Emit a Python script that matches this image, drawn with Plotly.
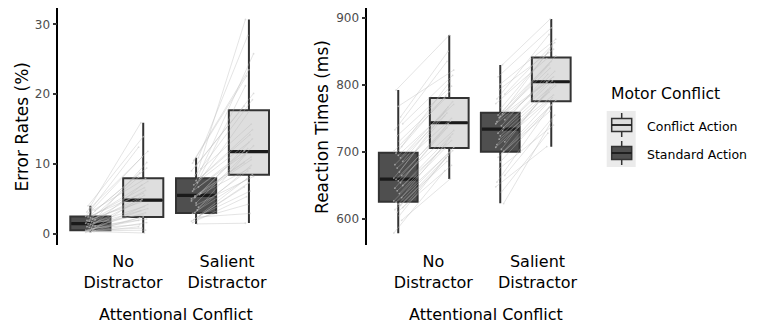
import plotly.graph_objects as go

W, H = 757, 327

# ---------------- data ----------------
categories = ["No<br>Distractor", "Salient<br>Distractor"]
motor_levels = ["Conflict Action", "Standard Action"]

# Error rates (%) per participant
er_nd_standard = [0.2, 0.3, 0.3, 0.4, 0.4, 0.4, 0.5, 0.5, 0.5, 0.5, 0.7, 0.8, 0.9, 1.0, 1.1, 1.2, 1.3, 1.4,
                  1.5, 1.6, 1.7, 1.8, 1.9, 2.0, 2.1, 2.3, 2.4, 2.5, 2.7, 2.8, 3.0, 3.1, 3.3, 3.5, 3.7, 4.0]
er_nd_conflict = [1.0, 0.1, 2.3, 0.5, 3.3, 1.6, 0.8, 4.2, 2.4, 1.9, 5.5, 1.3, 3.0, 4.7, 2.1, 7.0, 3.6, 2.7,
                  8.1, 3.9, 5.2, 6.2, 4.5, 10.2, 4.9, 7.5, 5.8, 12.4, 6.6, 8.7, 7.9, 15.9, 9.4, 11.0, 11.8, 13.9]
er_sd_standard = [1.8, 2.4, 1.4, 3.0, 1.6, 2.8, 2.2, 4.1, 2.0, 4.7, 2.6, 3.4, 5.2, 2.9, 5.8, 3.8, 4.4, 6.4,
                  5.0, 5.6, 7.3, 5.4, 6.1, 8.1, 6.7, 7.6, 7.0, 9.0, 7.9, 8.7, 8.4, 10.1, 9.3, 10.9, 9.7, 10.5]
er_sd_conflict = [6.7, 2.9, 1.5, 9.8, 5.3, 8.5, 4.2, 8.2, 7.3, 11.9, 6.1, 11.3, 10.6, 7.8, 13.6, 9.0, 12.6, 17.5,
                  10.2, 9.4, 21.2, 11.0, 11.6, 14.9, 12.2, 25.8, 13.1, 18.3, 14.2, 30.7, 15.7, 22.6, 19.2, 28.4, 20.1, 23.5]

# Reaction times (ms) per participant
rt_nd_standard = [579, 598, 605, 610, 614, 617, 620, 622, 625, 627, 632, 638, 642, 646, 650, 654, 657, 659,
                  661, 665, 670, 676, 681, 686, 691, 695, 698, 701, 708, 716, 724, 733, 742, 752, 768, 792]
rt_nd_conflict = [672, 660, 691, 680, 686, 702, 695, 707, 699, 705, 722, 712, 717, 736, 727, 742, 732, 740,
                  754, 746, 762, 750, 758, 775, 767, 771, 790, 779, 806, 783, 798, 835, 814, 850, 822, 874]
rt_sd_standard = [648, 623, 640, 675, 655, 665, 699, 685, 692, 707, 701, 704, 719, 711, 715, 732, 724, 728,
                  742, 736, 739, 751, 745, 748, 757, 753, 755, 772, 761, 766, 793, 779, 786, 830, 801, 812]
rt_sd_conflict = [708, 748, 728, 740, 766, 755, 761, 777, 770, 774, 781, 793, 785, 789, 802, 796, 799, 809,
                  804, 806, 816, 812, 830, 820, 825, 843, 835, 839, 858, 848, 853, 875, 863, 898, 868, 885]

# Box statistics, order: [No Distractor, Salient Distractor]
er_standard_stats = dict(lowerfence=[0.2, 1.38], q1=[0.5, 2.95], median=[1.43, 5.48], q3=[2.45, 7.95], upperfence=[4.0, 10.9])
er_conflict_stats = dict(lowerfence=[0.1, 1.52], q1=[2.38, 8.43], median=[4.81, 11.76], q3=[7.95, 17.7], upperfence=[15.9, 30.7])
rt_standard_stats = dict(lowerfence=[578.7, 623.4], q1=[625.8, 700.3], median=[659.6, 734.1], q3=[698.8, 758.4], upperfence=[792.2, 829.5])
rt_conflict_stats = dict(lowerfence=[659.6, 707.7], q1=[705.8, 775.4], median=[743.5, 804.6], q3=[780.3, 840.9], upperfence=[874.2, 898.0])

# ---------------- style ----------------
FONT = "DejaVu Sans"
DARK_FILL = "#4f4f4f"
LIGHT_FILL = "#dedede"
OUTLINE = "#333333"
MEDIAN = "#1a1a1a"
LINE_COL = "rgba(185,185,185,0.55)"
PT_COL = "rgba(205,205,205,0.6)"
BOX_W = 0.38
DODGE = 0.25
CAT_POS = [1, 2]

fig = go.Figure()


def add_panel(xa, ya, std_stats, con_stats, std_nd, con_nd, std_sd, con_sd):
    for stats, fill, off in ((std_stats, DARK_FILL, -DODGE), (con_stats, LIGHT_FILL, DODGE)):
        xs = [c + off for c in CAT_POS]
        fig.add_trace(go.Box(
            x=xs, q1=stats["q1"], median=stats["median"], q3=stats["q3"],
            lowerfence=stats["lowerfence"], upperfence=stats["upperfence"],
            width=BOX_W, whiskerwidth=0, fillcolor=fill,
            line=dict(color=OUTLINE, width=2), boxpoints=False,
            xaxis=xa, yaxis=ya, showlegend=False, hoverinfo="skip"))
        # thicker median bar (ggplot style)
        mx, my = [], []
        for x, m in zip(xs, stats["median"]):
            mx += [x - BOX_W / 2 + 0.01, x + BOX_W / 2 - 0.01, None]
            my += [m, m, None]
        fig.add_trace(go.Scatter(x=mx, y=my, mode="lines", line=dict(color=MEDIAN, width=3.2),
                                 xaxis=xa, yaxis=ya, showlegend=False, hoverinfo="skip"))
    # participant lines and points
    lx, ly, px_, py_ = [], [], [], []
    for ci, (s_vals, c_vals) in enumerate(((std_nd, con_nd), (std_sd, con_sd))):
        for i, (s, c) in enumerate(zip(s_vals, c_vals)):
            js = ((i * 7) % 9 - 4) * 0.011
            jc = ((i * 5) % 9 - 4) * 0.011
            xs_ = CAT_POS[ci] - DODGE + js
            xc_ = CAT_POS[ci] + DODGE + jc
            lx += [xs_, xc_, None]
            ly += [s, c, None]
            px_ += [xs_, xc_]
            py_ += [s, c]
    fig.add_trace(go.Scatter(x=lx, y=ly, mode="lines", line=dict(color=LINE_COL, width=0.7),
                             xaxis=xa, yaxis=ya, showlegend=False, hoverinfo="skip"))
    fig.add_trace(go.Scatter(x=px_, y=py_, mode="markers", marker=dict(color=PT_COL, size=1.8),
                             xaxis=xa, yaxis=ya, showlegend=False, hoverinfo="skip"))


add_panel("x", "y", er_standard_stats, er_conflict_stats,
          er_nd_standard, er_nd_conflict, er_sd_standard, er_sd_conflict)
add_panel("x2", "y2", rt_standard_stats, rt_conflict_stats,
          rt_nd_standard, rt_nd_conflict, rt_sd_standard, rt_sd_conflict)


def fx(p):
    return p / W


def fy(p):
    return 1 - p / H


ydom = [fy(245), fy(8)]
xcommon = dict(showline=False, showgrid=False, zeroline=False, ticks="outside",
               tickcolor="rgba(0,0,0,0)", ticklen=2,
               tickfont=dict(family=FONT, size=16, color="#000000"))
ycommon = dict(showline=True, linecolor="#000000", linewidth=1.5, showgrid=False, zeroline=False,
               ticks="outside", ticklen=4, tickwidth=1.5, tickcolor="#333333",
               tickfont=dict(family=FONT, size=12, color="#4d4d4d"), domain=ydom)

fig.update_layout(
    width=W, height=H, autosize=False,
    margin=dict(l=0, r=0, t=0, b=0),
    paper_bgcolor="white", plot_bgcolor="white",
    font=dict(family=FONT),
    showlegend=False,
    xaxis=dict(domain=[fx(58.3), fx(293)], range=[0.4465, 2.667], tickvals=[1.059, 2.043],
               ticktext=categories, anchor="y", **xcommon),
    xaxis2=dict(domain=[fx(367.3), fx(604)], range=[0.4466, 2.767], tickvals=[1.094, 2.115],
                ticktext=categories, anchor="y2", **xcommon),
    yaxis=dict(range=[-1.62, 32.34], tickvals=[0, 10, 20, 30], anchor="x", **ycommon),
    yaxis2=dict(range=[561.3, 914.5], tickvals=[600, 700, 800, 900], anchor="x2", **ycommon),
)

ann = []
ann.append(dict(text="Error Rates (%)", x=fx(22), y=fy(126.5), textangle=-90,
                font=dict(size=17, color="#000000")))
ann.append(dict(text="Reaction Times (ms)", x=fx(322.4), y=fy(126.5), textangle=-90,
                font=dict(size=17, color="#000000")))
ann.append(dict(text="Attentional Conflict", x=fx(175.8), y=fy(314.5),
                font=dict(size=16, color="#000000")))
ann.append(dict(text="Attentional Conflict", x=fx(485.8), y=fy(314.5),
                font=dict(size=16, color="#000000")))
ann.append(dict(text="Motor Conflict", x=fx(609), y=fy(94.5), xanchor="left",
                font=dict(size=15.6, color="#000000")))
ann.append(dict(text=motor_levels[0], x=fx(645), y=fy(126.5), xanchor="left",
                font=dict(size=12.5, color="#000000")))
ann.append(dict(text=motor_levels[1], x=fx(645), y=fy(154.5), xanchor="left",
                font=dict(size=12.5, color="#000000")))
for a in ann:
    a.setdefault("xanchor", "center")
    a.update(xref="paper", yref="paper", yanchor="middle", showarrow=False)
    a["font"]["family"] = FONT
fig.update_layout(annotations=ann)

# legend keys (ggplot-style boxplot glyphs)
shapes = []
keys = [(111, LIGHT_FILL), (139, DARK_FILL)]
for top, fill in keys:
    shapes.append(dict(type="rect", x0=fx(606.7), x1=fx(635.7), y0=fy(top), y1=fy(top + 28),
                       fillcolor="#ebebeb", line=dict(width=0), layer="below"))
    cx = fx(621.7)
    shapes.append(dict(type="line", x0=cx, x1=cx, y0=fy(top + 2), y1=fy(top + 26),
                       line=dict(color=OUTLINE, width=1.5)))
    shapes.append(dict(type="rect", x0=fx(611.7), x1=fx(631.7), y0=fy(top + 7.5), y1=fy(top + 20.5),
                       fillcolor=fill, line=dict(color=OUTLINE, width=1.5)))
    shapes.append(dict(type="line", x0=fx(611.7), x1=fx(631.7), y0=fy(top + 14), y1=fy(top + 14),
                       line=dict(color=MEDIAN, width=1.8)))
for s in shapes:
    s.update(xref="paper", yref="paper")
fig.update_layout(shapes=shapes)

fig.write_html("out.html")
